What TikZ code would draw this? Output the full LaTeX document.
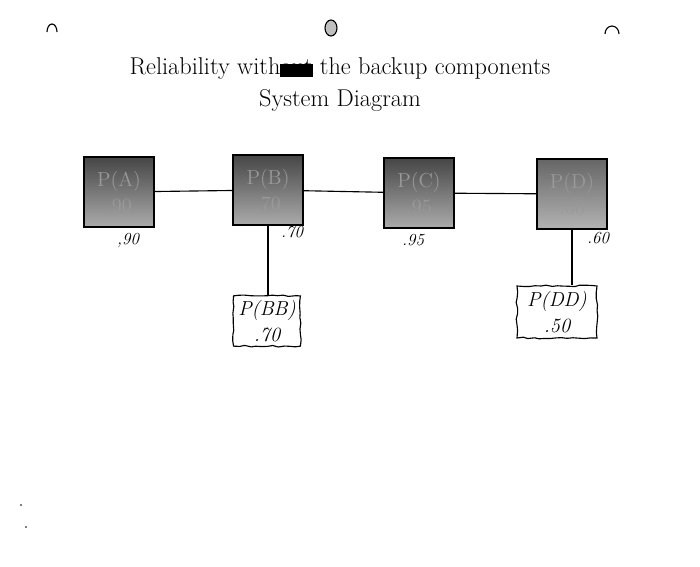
\documentclass[tikz,border=0pt]{standalone}
\usepackage{tikz}
\usepackage{xcolor}
\usetikzlibrary{positioning,shapes,calc,decorations.pathmorphing}
\definecolor{scandark}{RGB}{70,70,70}
\definecolor{scanlight}{RGB}{150,150,150}
\newcommand{\blotout}[1]{\setbox0\hbox{#1}\rlap{\copy0}\rule[-0.15ex]{\wd0}{1.2ex}}

\begin{document}
\begin{tikzpicture}[x=0.025cm,y=-0.025cm,
    part/.style={rectangle, draw=black, thick, minimum width=1.75cm, minimum height=1.75cm,
        top color=scandark, bottom color=scanlight!80, text=black!40, align=center, font=\Large},
    lightpart/.style={part, top color=black!60, bottom color=black!30},
    backup/.style={rectangle, draw=black, thick, align=center, font=\Large\itshape,
        decorate, decoration={random steps, segment length=4pt, amplitude=0.6pt}},
    hand/.style={font=\large\itshape},
    wire/.style={thick}]
\useasboundingbox (0,0) rectangle (700,567);

% punch marks of the scanned page
\draw[thick] (47,32) arc [start angle=180, end angle=360, x radius=5, y radius=8];
\draw[thick] (605,34) arc [start angle=180, end angle=360, x radius=7, y radius=8];
\draw[thick, fill=black!25] (331,28) ellipse (6 and 8);
\fill (21,505) circle (0.8);
\fill (26,527) circle (0.8);

% title
\node[font=\LARGE] (title) at (340,69) {Reliability with\blotout{out} the backup components};
\node[font=\LARGE, below=0cm of title] (subtitle) {System Diagram};

% components in series
\node[part] (A) at (119,192) {P(A)\\.90};
\node[part] (B) at (268,190) {P(B)\\.70};
\node[part] (C) at (419,193) {P(C)\\.95};
\node[lightpart] (D) at (572,194) {P(D)\\.60};

\draw[wire] (A) -- (B);
\draw[wire] (B) -- (C);
\draw[wire] (C) -- (D);

% handwritten values
\node[hand] (valA) at (128,241) {,90};
\node[hand] (valB) at (292,232) {.70};
\node[hand] (valC) at (413,240) {.95};
\node[hand] (valD) at (598,238) {.60};

% backup components
\node[backup, minimum width=1.65cm, minimum height=1.25cm] (BB) at (267,321) {P(BB)\\.70};
\node[backup, minimum width=2cm, minimum height=1.3cm] (DD) at (557,312) {P(DD)\\.50};

\draw[wire] (B.south) -- (B.south |- BB.north);
\draw[wire] (D.south) -- (D.south |- DD.north);
\end{tikzpicture}
\end{document}
